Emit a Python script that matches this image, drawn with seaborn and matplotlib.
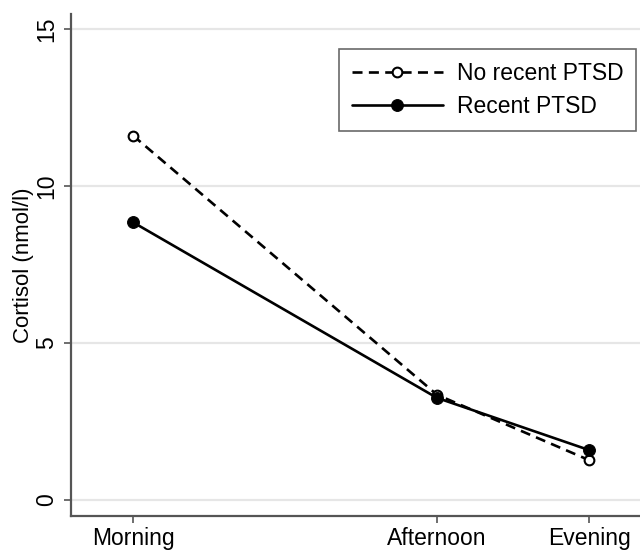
import matplotlib
matplotlib.use("Agg")
import matplotlib.pyplot as plt
import seaborn as sns
import pandas as pd

# Data
times = ["Morning", "Afternoon", "Evening"]
time_pos = [0, 2, 3]
no_recent = [11.6, 3.35, 1.27]
recent = [8.84, 3.25, 1.59]

sns.set_theme(style="white")
plt.rcParams['font.family'] = ['Liberation Sans', 'DejaVu Sans']

df = pd.DataFrame({
    "pos": time_pos * 2,
    "cortisol": no_recent + recent,
    "group": ["No recent PTSD"] * 3 + ["Recent PTSD"] * 3,
})

fig = plt.figure(figsize=(6.4, 5.51), dpi=100)
ax = fig.add_axes([71/640, 1 - 516/551, 1.05 - 71/640, (516 - 14)/551])

d1 = df[df.group == "No recent PTSD"]
d2 = df[df.group == "Recent PTSD"]
sns.lineplot(data=d1, x="pos", y="cortisol", ax=ax, color="black",
             linestyle=(0, (3.8, 2.4)), linewidth=1.9, marker="o", markersize=7,
             markerfacecolor="white", markeredgecolor="black", markeredgewidth=1.5,
             label="No recent PTSD", zorder=3)
sns.lineplot(data=d2, x="pos", y="cortisol", ax=ax, color="black",
             linewidth=1.9, marker="o", markersize=8.5,
             markerfacecolor="black", markeredgecolor="black",
             label="Recent PTSD", zorder=3)

ax.set_ylim(-0.51, 15.47)
ax.set_xlim(-0.408, 3.546)
ax.set_yticks([0, 5, 10, 15])
ax.set_xticks(time_pos)
ax.set_xticklabels(times)
ax.set_xlabel("")
ax.set_ylabel("Cortisol (nmol/l)", fontsize=16, labelpad=1, color="black")

for t in ax.get_yticklabels():
    t.set_rotation(90)
    t.set_va("center")
ax.tick_params(axis="both", labelsize=16.5, length=5, width=1.2,
               color="#555555", labelcolor="black", direction="out", pad=4)
ax.tick_params(axis="y", left=True)
ax.tick_params(axis="x", bottom=True, pad=3)

ax.yaxis.grid(True, color="#e6e6e6", linewidth=1.6)
ax.set_axisbelow(True)
for s in ["top", "right"]:
    ax.spines[s].set_visible(False)
for s in ["left", "bottom"]:
    ax.spines[s].set_color("#555555")
    ax.spines[s].set_linewidth(1.6)

leg = ax.legend(loc="upper left", bbox_to_anchor=(339/640, 1 - 49/551),
                bbox_transform=fig.transFigure, borderaxespad=0,
                fontsize=16.5, handlelength=4.0, frameon=True, fancybox=False,
                edgecolor="#444444", borderpad=0.55, labelspacing=0.45,
                handletextpad=0.6)
leg.get_frame().set_linewidth(1.2)
for t in leg.get_texts():
    t.set_color("black")

fig.savefig("out.png", dpi=100)
